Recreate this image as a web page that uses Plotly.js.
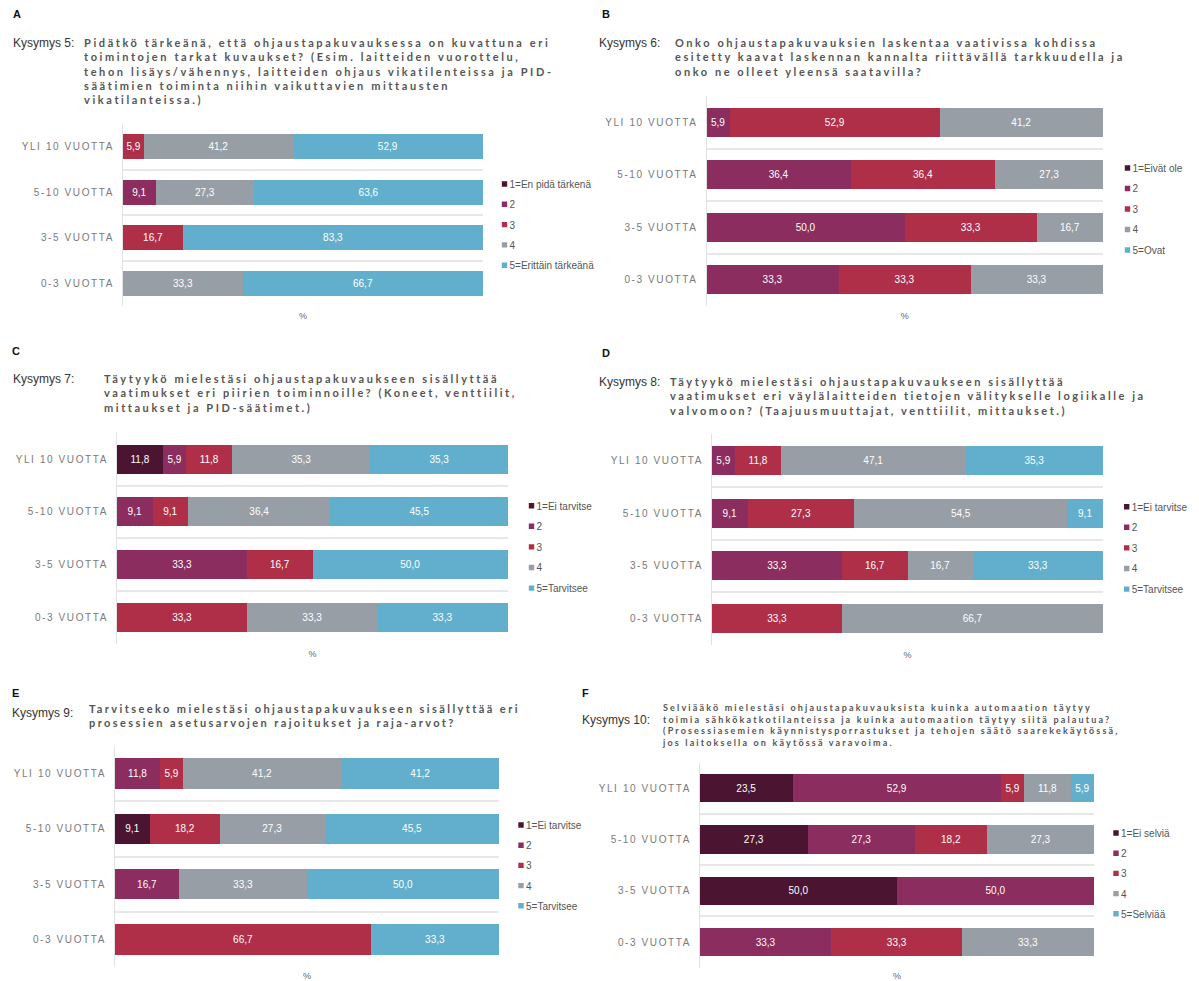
<!DOCTYPE html>
<html>
<head>
<meta charset="utf-8">
<script src="https://cdn.plot.ly/plotly-3.0.1.min.js"></script>
<style>
  html, body { margin: 0; padding: 0; background: #ffffff; }
  #chart { width: 1199px; height: 981px; }
  .yaxislayer-above text { letter-spacing: 1.6px; }
</style>
</head>
<body>
<div id="chart"></div>
<script>
// Experience groups shown on every vertical axis, top to bottom
const categories = ['YLI 10 VUOTTA', '5-10 VUOTTA', '3-5 VUOTTA', '0-3 VUOTTA'];

// Answer level colours, 1 .. 5
const levelColors = ['#4b1532', '#8b2d5e', '#b02f48', '#979ea6', '#62afcd'];

// Shares (%) per answer level; each row is one level (1..5), values follow `categories`
const kysymys5 = [
  [0, 0, 0, 0],
  [0, 9.1, 0, 0],
  [5.9, 0, 16.7, 0],
  [41.2, 27.3, 0, 33.3],
  [52.9, 63.6, 83.3, 66.7]
];
const kysymys6 = [
  [0, 0, 0, 0],
  [5.9, 36.4, 50.0, 33.3],
  [52.9, 36.4, 33.3, 33.3],
  [41.2, 27.3, 16.7, 33.3],
  [0, 0, 0, 0]
];
const kysymys7 = [
  [11.8, 0, 0, 0],
  [5.9, 9.1, 33.3, 0],
  [11.8, 9.1, 16.7, 33.3],
  [35.3, 36.4, 0, 33.3],
  [35.3, 45.5, 50.0, 33.3]
];
const kysymys8 = [
  [0, 0, 0, 0],
  [5.9, 9.1, 33.3, 0],
  [11.8, 27.3, 16.7, 33.3],
  [47.1, 54.5, 16.7, 66.7],
  [35.3, 9.1, 33.3, 0]
];
const kysymys9 = [
  [0, 9.1, 0, 0],
  [11.8, 0, 16.7, 0],
  [5.9, 18.2, 0, 66.7],
  [41.2, 27.3, 33.3, 0],
  [41.2, 45.5, 50.0, 33.3]
];
const kysymys10 = [
  [23.5, 27.3, 50.0, 0],
  [52.9, 27.3, 50.0, 33.3],
  [5.9, 18.2, 0, 33.3],
  [11.8, 27.3, 0, 33.3],
  [5.9, 0, 0, 0]
];

// Legend labels per question
const legendK5 = ['1=En pidä tärkenä', '2', '3', '4', '5=Erittäin tärkeänä'];
const legendK6 = ['1=Eivät ole', '2', '3', '4', '5=Ovat'];
const legendK7 = ['1=Ei tarvitse', '2', '3', '4', '5=Tarvitsee'];
const legendK8 = ['1=Ei tarvitse', '2', '3', '4', '5=Tarvitsee'];
const legendK9 = ['1=Ei tarvitse', '2', '3', '4', '5=Tarvitsee'];
const legendK10 = ['1=Ei selviä', '2', '3', '4', '5=Selviää'];

// Question headings
const panelLetters = ['A', 'B', 'C', 'D', 'E', 'F'];
const questionNames = ['Kysymys 5:', 'Kysymys 6:', 'Kysymys 7:', 'Kysymys 8:', 'Kysymys 9:', 'Kysymys 10:'];
const questionTexts = [
  'Pidätkö tärkeänä, että ohjaustapakuvauksessa on kuvattuna eri<br>toimintojen tarkat kuvaukset? (Esim. laitteiden vuorottelu,<br>tehon lisäys/vähennys, laitteiden ohjaus vikatilenteissa ja PID-<br>säätimien toiminta niihin vaikuttavien mittausten<br>vikatilanteissa.)',
  'Onko ohjaustapakuvauksien laskentaa vaativissa kohdissa<br>esitetty kaavat laskennan kannalta riittävällä tarkkuudella ja<br>onko ne olleet yleensä saatavilla?',
  'Täytyykö mielestäsi ohjaustapakuvaukseen sisällyttää<br>vaatimukset eri piirien toiminnoille? (Koneet, venttiilit,<br>mittaukset ja PID-säätimet.)',
  'Täytyykö mielestäsi ohjaustapakuvaukseen sisällyttää<br>vaatimukset eri väylälaitteiden tietojen välitykselle logiikalle ja<br>valvomoon? (Taajuusmuuttajat, venttiilit, mittaukset.)',
  'Tarvitseeko mielestäsi ohjaustapakuvaukseen sisällyttää eri<br>prosessien asetusarvojen rajoitukset ja raja-arvot?',
  'Selviääkö mielestäsi ohjaustapakuvauksista kuinka automaation täytyy<br>toimia sähkökatkotilanteissa ja kuinka automaation täytyy siitä palautua?<br>(Prosessiasemien käynnistysporrastukset ja tehojen säätö saarekekäytössä,<br>jos laitoksella on käytössä varavoima.'
];

const W = 1199, H = 981;

// Panel geometry in pixels: plot box [left, right, top, bottom], legend text start / first row,
// heading positions, question font size and the drawn width of the question's first line
const panels = [
  { values: kysymys5, labels: legendK5, box: [123, 483, 124, 306], leg: [509.5, 184], gap: 1.3,
    letter: [13, 14], name: [13, 43], q: [84, 43], qSize: 11, qWidth: 463 },
  { values: kysymys6, labels: legendK6, box: [706.5, 1103, 96, 306], leg: [1132.5, 168], gap: 1.5,
    letter: [602, 14], name: [598.5, 43], q: [675, 43], qSize: 11, qWidth: 420 },
  { values: kysymys7, labels: legendK7, box: [117, 508, 432.7, 644], leg: [536.5, 505.7], gap: 1.6,
    letter: [12, 351], name: [13, 379], q: [104, 379], qSize: 11, qWidth: 392 },
  { values: kysymys8, labels: legendK8, box: [712, 1103, 434, 645], leg: [1131.7, 506.7], gap: 1.6,
    letter: [602, 353], name: [598.5, 382], q: [670, 382], qSize: 11, qWidth: 392 },
  { values: kysymys9, labels: legendK9, box: [115, 499, 746, 967], leg: [526, 825], gap: 1.2,
    letter: [12, 693], name: [12, 713], q: [89, 709], qSize: 11, qWidth: 428 },
  { values: kysymys10, labels: legendK10, box: [700, 1094, 762.7, 967.7], leg: [1121, 833], gap: 1.2,
    letter: [582, 693], name: [582, 720], q: [662, 708], qSize: 9, qWidth: 427 }
];

const LABEL_FONT = 'Liberation Sans, Arial, sans-serif';
const QUESTION_FONT = 'Lato, Liberation Sans, sans-serif';

const fmt = v => (v > 0 ? v.toFixed(1).replace('.', ',') : '');

// Natural width of a bold question line, used to spread the letters to the wanted width
function naturalWidth(text, size) {
  const ns = 'http://www.w3.org/2000/svg';
  const svg = document.createElementNS(ns, 'svg');
  svg.setAttribute('style', 'position:absolute;left:-9999px;top:0');
  const t = document.createElementNS(ns, 'text');
  t.setAttribute('font-family', QUESTION_FONT);
  t.setAttribute('font-weight', 'bold');
  t.setAttribute('font-size', size);
  t.textContent = text;
  svg.appendChild(t);
  document.body.appendChild(svg);
  const w = t.getComputedTextLength();
  svg.remove();
  return w;
}

function trackedQuestion(text, size, width) {
  const lines = text.split('<br>');
  const spacing = Math.max(0, (width - naturalWidth(lines[0], size)) / (lines[0].length - 1));
  return lines.map(l => '<span style="letter-spacing:' + spacing.toFixed(2) + 'px">' + l + '</span>').join('<br>');
}

const traces = [];
const layout = {
  width: W, height: H,
  margin: { l: 0, r: 0, t: 0, b: 0 },
  paper_bgcolor: '#ffffff', plot_bgcolor: '#ffffff',
  barmode: 'stack', bargap: 0.45,
  separators: ', ',
  font: { family: LABEL_FONT, color: '#555555', size: 10 },
  annotations: []
};

panels.forEach((p, i) => {
  const sfx = i === 0 ? '' : String(i + 1);
  const [l, r, t, b] = p.box;

  p.values.forEach((vals, lvl) => {
    traces.push({
      type: 'bar', orientation: 'h',
      x: vals, y: categories,
      xaxis: 'x' + sfx, yaxis: 'y' + sfx,
      name: p.labels[lvl],
      legend: 'legend' + sfx,
      legendgroup: 'p' + i + 'l' + lvl,
      marker: { color: levelColors[lvl], line: { width: 0 } },
      text: vals.map(fmt),
      textposition: 'inside', insidetextanchor: 'middle', textangle: 0,
      insidetextfont: { color: '#ffffff', size: 10, family: LABEL_FONT },
      hoverinfo: 'skip'
    });
  });

  layout['xaxis' + sfx] = {
    domain: [l / W, r / W], anchor: 'y' + sfx, range: [0, 100],
    showgrid: false, zeroline: false, showline: false,
    showticklabels: false, ticks: '', fixedrange: true,
    title: { text: '%', font: { size: 9, color: '#666666' }, standoff: 6 }
  };
  layout['yaxis' + sfx] = {
    domain: [1 - b / H, 1 - t / H], anchor: 'x' + sfx,
    type: 'category', autorange: 'reversed', tickson: 'boundaries',
    showgrid: true, gridcolor: '#e7e7e7', gridwidth: 2,
    showline: true, linecolor: '#e2e2e2', linewidth: 1,
    ticks: '', ticklabelstandoff: 6, fixedrange: true,
    tickfont: { size: 10, color: '#7a7a7a', family: LABEL_FONT }
  };
  layout['legend' + sfx] = {
    x: (p.leg[0] - 40) / W, y: 1 - (p.leg[1] - 14.5) / H,
    xanchor: 'left', yanchor: 'top',
    bgcolor: 'rgba(0,0,0,0)', borderwidth: 0,
    font: { size: 10, color: '#555555', family: LABEL_FONT },
    traceorder: 'grouped', tracegroupgap: p.gap,
    itemclick: false, itemdoubleclick: false
  };

  layout.annotations.push({
    xref: 'paper', yref: 'paper', x: (p.letter[0] - 2) / W, y: 1 - p.letter[1] / H,
    xanchor: 'left', yanchor: 'middle', showarrow: false,
    text: panelLetters[i],
    font: { size: 11, color: '#111111', family: LABEL_FONT, weight: 'bold' }
  });
  layout.annotations.push({
    xref: 'paper', yref: 'paper', x: (p.name[0] - 2) / W, y: 1 - p.name[1] / H,
    xanchor: 'left', yanchor: 'middle', showarrow: false,
    text: questionNames[i],
    font: { size: 12, color: '#333333', family: LABEL_FONT }
  });
  layout.annotations.push({
    xref: 'paper', yref: 'paper',
    x: (p.q[0] - 2) / W, y: 1 - (p.q[1] - (p.qSize * 0.65 + 2)) / H,
    xanchor: 'left', yanchor: 'top', align: 'left', showarrow: false,
    text: trackedQuestion(questionTexts[i], p.qSize, p.qWidth),
    font: { size: p.qSize, color: '#555555', family: QUESTION_FONT, weight: 'bold' }
  });
});

Plotly.newPlot('chart', traces, layout, { displayModeBar: false, staticPlot: true }).then(gd => {
  // Small square legend keys placed close to their labels
  gd.querySelectorAll('.legendpoints path').forEach(el => {
    const tr = el.getAttribute('transform') || '';
    el.setAttribute('transform', tr + ' translate(15,0) scale(0.45)');
  });
});
</script>
</body>
</html>
